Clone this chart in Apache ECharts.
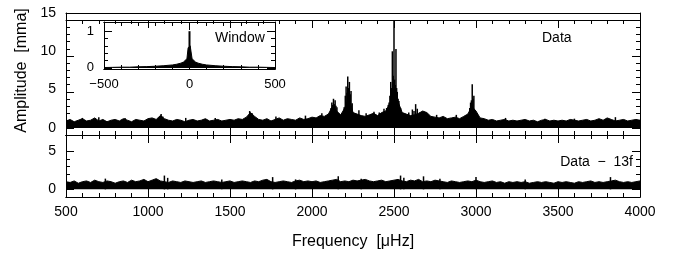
<!DOCTYPE html>
<html>
<head>
<meta charset="utf-8">
<script src="https://cdn.jsdelivr.net/npm/echarts@6/dist/echarts.min.js"></script>
<style>
  html, body { margin: 0; padding: 0; background: #fff; }
  #wrap { position: relative; width: 685px; height: 264px; }
  #wrap > div { position: absolute; left: 0; top: 0; width: 685px; height: 264px; }
  .ticks { pointer-events: none; }
</style>
</head>
<body>
<div id="wrap">
  <div id="chart"></div>
  <div id="t1" class="ticks"></div><div id="t2" class="ticks"></div><div id="t3" class="ticks"></div>
  <div id="t4" class="ticks"></div><div id="t5" class="ticks"></div><div id="t6" class="ticks"></div>
</div>
<script>
// frequency grid of the noise envelope (muHz)
var freqStart = 500;
var freqStep = 25;

// upper edge of the amplitude spectrum, top panel (mma)
var dataAmp = [
  0.9,1.1,0.8,1.0,1.2,0.9,1.0,1.3,0.9,1.1,0.8,1.0,1.1,0.9,1.2,1.0,0.8,1.1,1.0,0.9,1.2,
  1.3,1.1,1.6,1.2,1.0,0.9,1.1,1.0,0.8,1.0,1.1,0.9,1.0,1.2,0.9,1.0,1.1,0.9,1.0,1.1,
  1.0,1.2,1.1,1.4,2.0,1.5,1.1,1.0,1.2,0.9,1.1,1.3,1.0,1.2,1.1,1.0,1.3,1.1,1.2,1.4,
  1.3,1.6,1.5,1.8,2.8,2.2,1.7,2.6,4.0,2.0,1.8,1.6,1.5,1.7,1.9,1.6,2.0,2.2,3.2,5.0,
  3.4,2.0,1.8,1.6,1.7,1.9,2.2,2.0,1.5,1.4,1.3,1.5,1.2,1.3,1.4,1.2,1.5,1.8,2.8,2.2,
  1.3,1.2,1.0,1.1,0.9,1.0,1.1,0.9,1.0,0.9,1.0,1.1,0.9,1.0,0.8,1.0,1.1,0.9,1.0,0.9,
  1.0,0.9,1.1,1.0,0.9,1.0,1.1,0.9,1.0,1.2,1.0,1.3,1.1,0.9,1.0,1.1,0.9,1.0,1.1,1.0
];

// narrow peaks on top of it: [frequency, amplitude]
var dataPeaks = [
  [600,1.3],[700,1.4],[860,1.3],[1080,1.8],[1090,1.5],[1230,1.3],[1410,1.3],[1620,2.2],[1635,1.9],[1780,1.5],[1960,1.6],[2060,1.9],
  [2116,2.6],[2121,3.3],[2126,3.0],[2131,3.8],[2136,3.1],[2141,3.6],[2146,2.9],[2152,2.7],
  [2196,2.7],[2203,4.2],[2208,5.4],[2213,4.6],[2218,6.7],[2223,5.2],[2228,6.0],[2233,4.4],[2238,4.8],[2245,3.2],
  [2286,2.3],[2330,1.9],[2378,2.1],[2410,2.0],[2439,2.5],[2455,2.6],
  [2465,3.0],[2470,3.3],[2475,4.2],[2480,6.0],[2485,5.2],[2490,10.0],[2495,6.8],[2500,14.0],[2504,6.3],[2508,5.6],
  [2512,10.3],[2516,5.2],[2520,4.7],[2525,3.8],[2530,3.5],[2540,2.6],
  [2590,2.0],[2612,2.4],[2622,2.2],[2632,3.1],[2642,2.5],[2660,2.0],[2760,1.7],[2880,1.7],
  [2962,2.6],[2967,3.3],[2972,3.6],[2977,5.7],[2982,3.8],[2987,4.2],[2995,2.0],
  [3180,1.3],[3420,1.2],[3600,1.2],[3850,1.4]
];

// residuals after prewhitening 13 frequencies, bottom panel
var residAmp = [
  1.0,0.9,1.1,0.8,1.0,1.1,0.9,1.2,1.0,0.9,1.1,1.0,0.8,1.0,1.1,0.9,1.2,1.0,1.1,1.3,1.0,
  1.2,1.4,1.1,1.0,0.9,1.1,1.0,0.9,1.1,1.0,0.9,1.0,1.1,0.9,1.0,1.1,1.0,0.9,1.0,1.1,
  0.9,1.0,1.1,1.0,0.9,1.1,1.0,1.2,1.3,1.0,0.9,1.0,1.1,1.0,0.9,1.1,1.2,1.0,1.1,1.0,
  1.1,0.9,1.0,1.1,1.2,1.3,1.0,1.1,1.0,1.2,1.1,1.2,1.3,1.1,1.0,1.1,1.2,1.0,1.1,1.2,
  1.3,1.1,1.0,1.2,1.1,1.3,1.0,1.1,1.0,1.2,1.1,1.0,0.9,1.1,1.0,0.9,1.0,1.1,1.0,1.2,
  1.0,0.9,1.0,1.1,0.9,1.0,0.8,1.0,0.9,1.0,0.9,1.0,0.8,0.9,1.0,0.9,1.0,0.9,0.8,1.0,
  0.9,1.0,0.9,0.8,1.0,0.9,1.0,1.1,0.9,1.0,0.9,1.0,1.1,1.2,1.0,0.9,1.0,0.9,1.0,1.1
];
var residPeaks = [
  [740,1.4],[1100,1.8],[1120,1.5],[1450,1.3],[1760,1.6],[1900,1.3],[2160,1.7],[2300,1.4],
  [2540,1.8],[2560,1.5],[2680,1.7],[2780,1.4],[3000,1.6],[3300,1.3],[3820,1.6]
];

// spectral window (inset)
var windowFreq = [-500,-450,-400,-350,-300,-250,-200,-150,-100,-75,-50,-35,-25,-15,-8,-4,0,4,8,15,25,35,50,75,100,150,200,250,300,350,400,450,500];
var windowAmp = [0.01,0.015,0.02,0.02,0.03,0.035,0.045,0.06,0.08,0.1,0.13,0.16,0.2,0.25,0.55,0.6,0.6,0.6,0.55,0.25,0.2,0.16,0.13,0.1,0.08,0.06,0.045,0.035,0.03,0.02,0.02,0.015,0.01];
var windowPeak = [[0,1.0]];

function pairs(amp) {
  return amp.map(function (a, i) { return [freqStart + i * freqStep, a]; });
}
function zip(xs, ys) {
  return xs.map(function (x, i) { return [x, ys[i]]; });
}

var FONT = 'Liberation Sans';
var BLACK = '#000';
var CLEAR = 'rgba(0,0,0,0)';

// ---------- main chart: data, frame lines, labels ----------
function ax(grid, pos, min, max, interval, label, fontSize, margin) {
  return {
    type: 'value', gridIndex: grid, position: pos, min: min, max: max, interval: interval,
    splitLine: { show: false },
    axisLine: { show: true, onZero: false, lineStyle: { color: BLACK } },
    axisTick: { show: false },
    axisLabel: {
      show: label, color: BLACK, fontFamily: FONT, fontSize: fontSize || 14, margin: margin || 10,
      formatter: function (v) { return String(v).replace('-', '\u2212'); }
    }
  };
}
function hid(grid, min, max) {
  return { type: 'value', gridIndex: grid, min: min, max: max, show: false };
}

// panel rectangles (px)
var rects = [
  [66, 13, 574, 122],     // 0 top panel
  [66, 135, 574, 62],     // 1 bottom panel
  [104, 22, 171, 47],     // 2 inset
  [66, 13, 574, 114.9],   // 3 top panel, 0..15
  [66, 151.3, 574, 38.1], // 4 bottom panel, 0..5
  [104, 31.2, 171, 36.7]  // 5 inset, 0..1
];
function rect(i) {
  var r = rects[i];
  return { left: r[0], top: r[1], width: r[2], height: r[3] };
}

var grids = [rect(0), rect(1), rect(2), rect(0), rect(1), rect(2), rect(3), rect(4), rect(5)];

var xAxes = [
  hid(0, 500, 4000), hid(1, 500, 4000), hid(2, -500, 500),
  ax(3, 'bottom', 500, 4000, 500, false), ax(3, 'top', 500, 4000, 500, false),
  ax(4, 'bottom', 500, 4000, 500, true, 14, 8), ax(4, 'top', 500, 4000, 500, false),
  ax(5, 'bottom', -500, 500, 500, true, 13, 9), ax(5, 'top', -500, 500, 500, false),
  hid(6, 500, 4000), hid(7, 500, 4000), hid(8, -500, 500)
];
xAxes[5].name = 'Frequency  [\u03BCHz]';
xAxes[5].nameLocation = 'middle';
xAxes[5].nameGap = 37;
xAxes[5].nameTextStyle = { color: BLACK, fontFamily: FONT, fontSize: 16, verticalAlign: 'top' };

var yAxes = [
  hid(0, -0.93, 15), hid(1, -1.0, 7.1), hid(2, -0.03, 1.25),
  ax(3, 'left', 0, 1, 1, false), ax(3, 'right', 0, 1, 1, false),
  ax(4, 'left', 0, 1, 1, false), ax(4, 'right', 0, 1, 1, false),
  ax(5, 'left', 0, 1, 1, false), ax(5, 'right', 0, 1, 1, false),
  ax(6, 'left', 0, 15, 5, true), hid(6, 0, 15),
  ax(7, 'left', 0, 5, 5, true), hid(7, 0, 5),
  ax(8, 'left', 0, 1, 1, true, 13), hid(8, 0, 1)
];
yAxes[9].axisLine.show = false;
yAxes[11].axisLine.show = false;
yAxes[13].axisLine.show = false;
yAxes[9].name = 'Amplitude  [mma]';
yAxes[9].nameLocation = 'middle';
yAxes[9].nameGap = 32;
yAxes[9].nameTextStyle = { color: BLACK, fontFamily: FONT, fontSize: 16 };

function envelope(x, y, data) {
  return {
    type: 'line', xAxisIndex: x, yAxisIndex: y, data: data, symbol: 'none',
    lineStyle: { color: BLACK, width: 1 }, areaStyle: { color: BLACK, opacity: 1 },
    silent: true
  };
}
function spikes(x, y, data, w) {
  return {
    type: 'bar', xAxisIndex: x, yAxisIndex: y, data: data, barWidth: w,
    itemStyle: { color: BLACK }, silent: true
  };
}

var option = {
  animation: false,
  backgroundColor: '#fff',
  grid: grids,
  xAxis: xAxes,
  yAxis: yAxes,
  series: [
    envelope(0, 0, pairs(dataAmp)),
    spikes(0, 0, dataPeaks, 1.5),
    envelope(1, 1, pairs(residAmp)),
    spikes(1, 1, residPeaks, 1.5),
    envelope(2, 2, zip(windowFreq, windowAmp)),
    spikes(2, 2, windowPeak, 2)
  ],
  graphic: [
    { type: 'text', left: 542, top: 31, style: { text: 'Data', fill: BLACK, font: '14px "Liberation Sans"' } },
    { type: 'text', right: 52, top: 155, style: { text: 'Data  \u2212  13f', fill: BLACK, font: '14px "Liberation Sans"' } },
    { type: 'text', left: 215, top: 31, style: { text: 'Window', fill: BLACK, font: '14px "Liberation Sans"' } }
  ]
};

var myChart = echarts.init(document.getElementById('chart'));
myChart.setOption(option);

// ---------- transparent overlays with the inward tick marks ----------
// every axis is built the same way; unused ones only get a clear colour
function tickAx(pos, min, max, interval, len, on) {
  var col = on ? BLACK : CLEAR;
  return {
    type: 'value', position: pos, min: min, max: max, interval: interval,
    splitLine: { show: false },
    axisLine: { show: true, onZero: false, lineStyle: { color: col } },
    axisTick: { show: true, inside: true, length: len, lineStyle: { color: col, width: 1 } },
    minorTick: { show: true, length: len / 2, lineStyle: { color: col, width: 1 } },
    axisLabel: { color: CLEAR }
  };
}
function tickChart(id, r, xr, yr, len) {
  try {
    var c = echarts.init(document.getElementById(id));
    c.setOption({
      animation: false,
      grid: r,
      xAxis: [tickAx('bottom', xr[0], xr[1], xr[2], len, xr[3]), tickAx('top', xr[0], xr[1], xr[2], len, xr[3])],
      yAxis: [tickAx('left', yr[0], yr[1], yr[2], len, yr[3]), tickAx('right', yr[0], yr[1], yr[2], len, yr[3])],
      series: []
    });
  } catch (e) { console.log(e); }
}
tickChart('t1', rect(0), [500, 4000, 500, true], [0, 1, 1, false], 8);
tickChart('t2', rect(1), [500, 4000, 500, true], [0, 1, 1, false], 8);
tickChart('t3', rect(2), [-500, 500, 500, true], [0, 1, 1, false], 8);
tickChart('t4', rect(3), [500, 4000, 500, false], [0, 15, 5, true], 8);
tickChart('t5', rect(4), [500, 4000, 500, false], [0, 5, 5, true], 8);
tickChart('t6', rect(5), [-500, 500, 500, false], [0, 1, 1, true], 8);
</script>
</body>
</html>
